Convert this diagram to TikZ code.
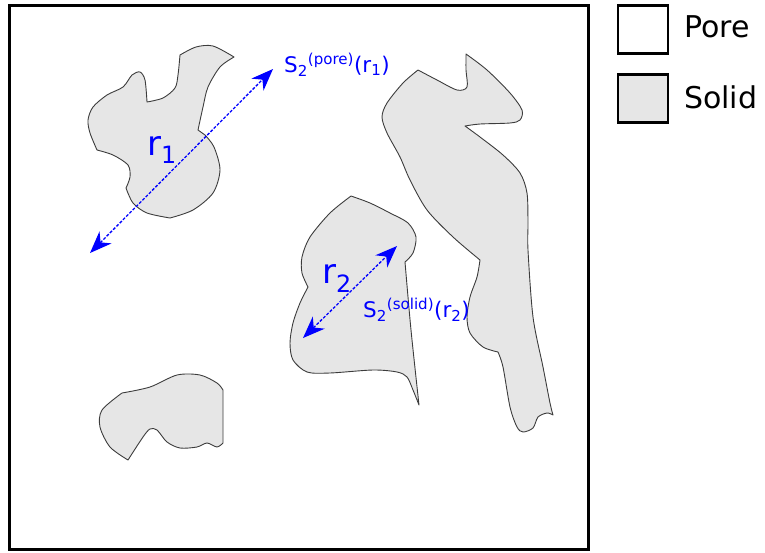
\documentclass[tikz,border=0pt]{standalone}
\usepackage{fontspec}
\setmainfont{DejaVu Sans}
\usetikzlibrary{arrows.meta}
\definecolor{solidgray}{RGB}{230,230,230}
\definecolor{edgegray}{RGB}{60,60,60}
\definecolor{lblblue}{RGB}{0,0,255}
\tikzset{
  grain/.style={fill=solidgray,draw=edgegray,line width=0.9pt,line join=round},
  legbox/.style={draw=black,line width=2.6pt},
  probe/.style={draw=lblblue,line width=1.3pt,dash pattern=on 3pt off 1.6pt,
    {Stealth[length=22pt,width=17pt,inset=7pt]}-{Stealth[length=22pt,width=17pt,inset=7pt]}},
  rlbl/.style={text=lblblue,font=\fontsize{34}{36}\selectfont,inner sep=0pt,anchor=base west},
  slbl/.style={text=lblblue,font=\fontsize{21.5}{24}\selectfont,inner sep=0pt,anchor=base west},
  leglbl/.style={font=\fontsize{30}{32}\selectfont,inner sep=0pt,anchor=base west}
}
\begin{document}
\begin{tikzpicture}[x=1pt,y=-1pt]
\useasboundingbox (0,0) rectangle (765,552);
% frame
\draw[line width=3pt] (9.5,5.5) rectangle (588,549.5);
% grain 1
\path[grain] (180,55) -- plot[smooth] coordinates {(180,55) (196,47) (213,46) (234,57)}
  -- plot[smooth] coordinates {(234,57) (220,67) (208,87) (203,107) (198,130)}
  -- plot[smooth] coordinates {(205,135) (214,147) (220,170) (213,193) (193,210) (170,218)}
  -- plot[smooth] coordinates {(170,218) (147,213) (133,203) (126,188)}
  -- plot[smooth] coordinates {(126,188) (130,177) (128,165) (113,155) (97,150)}
  -- plot[smooth] coordinates {(97,150) (90,133) (88,120) (93,107) (107,95) (123,87) (132,75) (140,72) (145,80) (147,102)}
  -- plot[smooth] coordinates {(147,102) (163,98) (175,88) (178,75) (180,55)} -- cycle;
% grain 2
\path[grain] (351,196) -- plot[smooth] coordinates {(351,196) (370,203) (390,213) (408,223) (416,237) (413,253) (405,262)}
  -- plot[smooth] coordinates {(405,262) (411,330) (419,405)}
  -- plot[smooth] coordinates {(419,405) (413,390) (407,377) (397,372) (373,370) (330,373) (307,372) (293,360) (290,343) (293,323) (300,303) (308,287)}
  -- plot[smooth] coordinates {(308,287) (302,273) (302,257) (310,237) (330,213) (351,196)} -- cycle;
% grain 3
\path[grain] (466,54) -- plot[smooth] coordinates {(466,54) (487,70) (510,93) (522,110) (520,120) (510,123) (480,124) (465,126)}
  -- plot[smooth] coordinates {(465,126) (480,137) (503,155) (520,173) (527,193) (528,223) (528,250) (533,317) (543,367) (550,403) (553,415)}
  -- plot[smooth] coordinates {(553,415) (547,413) (538,417) (533,428) (523,432) (517,427) (510,407) (503,367) (498,352)}
  -- plot[smooth] coordinates {(498,352) (483,347) (470,333) (467,317) (470,297) (477,277) (480,260)}
  -- plot[smooth] coordinates {(480,260) (453,237) (427,210) (410,180) (400,157) (387,133) (382,117) (387,103) (403,83) (418,70)}
  -- plot[smooth] coordinates {(418,70) (437,80) (457,90) (467,87) (466,70) (466,54)} -- cycle;
% grain 4
\path[grain] (122,393) -- plot[smooth] coordinates {(122,393) (150,387) (177,375) (200,375) (217,383) (223,390)}
  -- (223,443)
  -- plot[smooth] coordinates {(223,443) (217,447) (207,443) (197,447) (180,448) (167,442) (157,430) (150,429) (143,437) (128,460)}
  -- plot[smooth] coordinates {(128,460) (110,447) (100,427) (102,410) (122,393)} -- cycle;
% probes
\coordinate (p1a) at (90,253);
\coordinate (p1b) at (273,69);
\coordinate (p2a) at (303,338);
\coordinate (p2b) at (397,246);
\draw[probe] (p1a) -- (p1b);
\draw[probe] (p2a) -- (p2b);
% labels
\node[rlbl] (r1) at (147,155) {r\textsubscript{1}};
\node[rlbl] (r2) at (322,283) {r\textsubscript{2}};
\node[slbl] (s1) at (284,72) {S\textsubscript{2}\textsuperscript{(pore)}(r\textsubscript{1})};
\node[slbl] (s2) at (363,317) {S\textsubscript{2}\textsuperscript{(solid)}(r\textsubscript{2})};
% legend
\node[legbox,fill=white,minimum width=50pt,minimum height=48pt,inner sep=0pt] (lp) at (643,29.5) {};
\node[legbox,fill=solidgray,minimum width=50pt,minimum height=48pt,inner sep=0pt] (ls) at (643,98.5) {};
\node[leglbl] (tp) at (684,37) {Pore};
\node[leglbl] (ts) at (684,108) {Solid};
\end{tikzpicture}
\end{document}
